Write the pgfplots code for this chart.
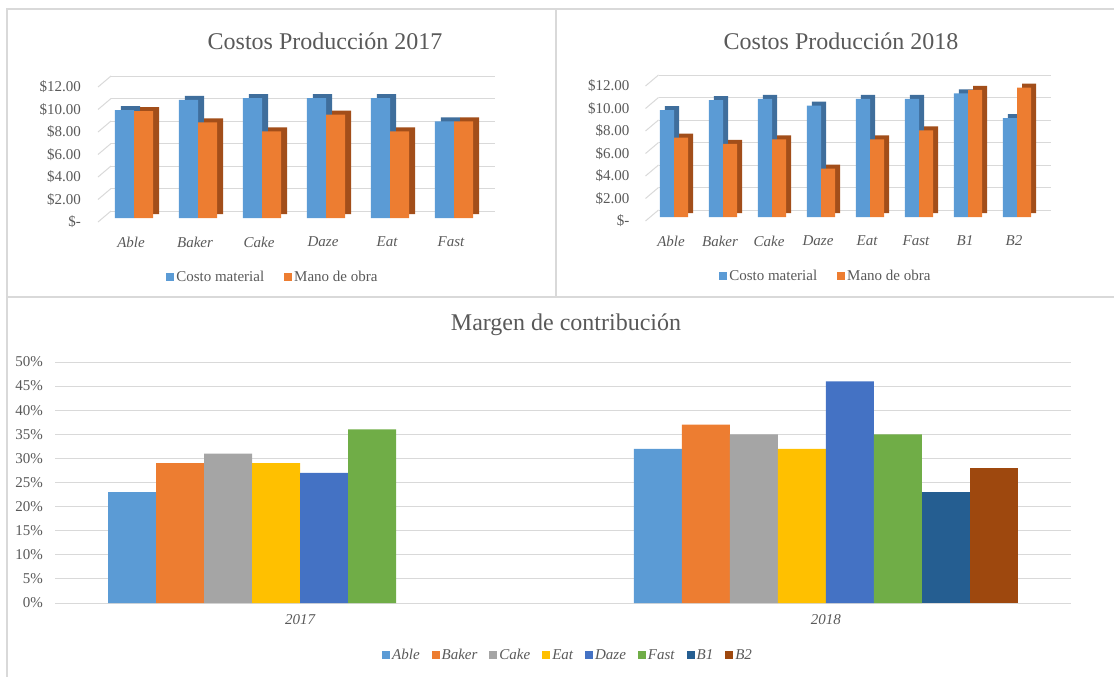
\documentclass[border=0pt]{standalone}
\usepackage{fontspec}
\setmainfont{Liberation Serif}
\usepackage{pgfplots}
\pgfplotsset{compat=1.18}
\usepackage{pgfplotstable}
\definecolor{cblue}{HTML}{5B9BD5}
\definecolor{corange}{HTML}{ED7D31}
\definecolor{cgray}{HTML}{A5A5A5}
\definecolor{cyellow}{HTML}{FFC000}
\definecolor{cdblue}{HTML}{4472C4}
\definecolor{cgreen}{HTML}{70AD47}
\definecolor{cnavy}{HTML}{255E91}
\definecolor{cbrown}{HTML}{9E480E}
\definecolor{sblue}{HTML}{3F6E9C}
\definecolor{sorange}{HTML}{A24E1A}
\definecolor{gridc}{HTML}{D9D9D9}
\definecolor{txt}{HTML}{595959}
\definecolor{framec}{HTML}{D9D9D9}
\newcommand\fs{\fontsize{15}{18}\selectfont}
\newcommand\ft{\fontsize{24}{28}\selectfont}

\pgfplotstableread{
x cost mano
0 9.6 9.5
1 10.5 8.5
2 10.65 7.7
3 10.65 9.2
4 10.65 7.7
5 8.6 8.6
}\tA
\pgfplotstableread{
x cost mano
0 9.5 7.05
1 10.4 6.5
2 10.5 6.9
3 9.9 4.3
4 10.5 6.9
5 10.5 7.7
6 11.0 11.3
7 8.8 11.5
}\tB
\pgfplotstableread{
x Able Baker Cake Eat Daze Fast B1 B2
0 23 29 31 29 27 36 nan nan
1 32 37 35 32 46 35 23 28
}\tC

\pgfplotsset{
  common/.style={scale only axis, clip=false, axis line style={draw=none},
    tick style={draw=none}, major tick length=0pt, ymajorgrids,
    major grid style={draw=gridc, line width=1pt},
    tick label style={font=\fs, text=txt},
    legend style={draw=none, fill=none, font=\fs, text=txt, anchor=center, inner sep=0pt}},
  sq legend/.style={legend image code/.code={\fill[##1] (0pt,-4pt) rectangle (8pt,4pt);}},
}

\begin{document}
\begin{tikzpicture}
\path[use as bounding box] (0pt,0pt) rectangle (1114pt,-677pt);
\draw[framec, line width=1.5pt] (7pt,-677pt) -- (7pt,-9pt) -- (1114pt,-9pt);
\draw[framec, line width=1.5pt] (556pt,-9pt) -- (556pt,-297pt);
\draw[framec, line width=1.5pt] (7pt,-297pt) -- (1114pt,-297pt);

\node[font=\ft, text=txt] at (325pt,-41pt) {Costos Producción 2017};
\node[font=\ft, text=txt] at (841pt,-41pt) {Costos Producción 2018};
\node[font=\ft, text=txt] at (566pt,-325pt) {Margen de contribución};

% top-left
\begin{axis}[common, at={(102pt,-218pt)}, anchor=south west, width=384pt, height=135pt,
  xmin=-0.5, xmax=5.5, ymin=0, ymax=12,
  ytick={0,2,4,6,8,10,12},
  yticklabels={\$-\hspace{6pt},\$2.00,\$4.00,\$6.00,\$8.00,\$10.00,\$12.00},
  xtick={0,1,2,3,4,5}, xticklabels={Able,Baker,Cake,Daze,Eat,Fast},
  xticklabel style={font=\fs\itshape, anchor=center, yshift=-24pt, xshift=-3pt},
  yticklabel style={anchor=east, inner sep=0pt, xshift=-21pt, yshift=-4pt},
  major grid style={draw=gridc, line width=1pt, xshift=9pt, yshift=7pt},
  legend columns=2,
  legend style={at={(0.445,-0.437)}, /tikz/every even column/.append style={column sep=18pt}},
  legend entries={Costo material, Mano de obra}]
\addplot[ybar, bar width=0.297, bar shift=-0.1485, fill=sblue, draw=none, xshift=6pt, yshift=4pt, forget plot] table[x=x,y=cost]{\tA};
\addplot[ybar, bar width=0.297, bar shift=-0.1485, fill=cblue, draw=none, sq legend] table[x=x,y=cost]{\tA};
\addplot[ybar, bar width=0.297, bar shift=0.1485, fill=sorange, draw=none, xshift=6pt, yshift=4pt, forget plot] table[x=x,y=mano]{\tA};
\addplot[ybar, bar width=0.297, bar shift=0.1485, fill=corange, draw=none, sq legend] table[x=x,y=mano]{\tA};
\pgfplotsinvokeforeach{0,2,4,6,8,10,12}{\draw[gridc, line width=1pt] ([xshift=-4pt,yshift=-4pt]axis cs:-0.5,#1) -- ([xshift=9pt,yshift=7pt]axis cs:-0.5,#1);}
\end{axis}

% top-right
\begin{axis}[common, at={(649.5pt,-217pt)}, anchor=south west, width=392pt, height=135pt,
  xmin=-0.5, xmax=7.5, ymin=0, ymax=12,
  ytick={0,2,4,6,8,10,12},
  yticklabels={\$-\hspace{6pt},\$2.00,\$4.00,\$6.00,\$8.00,\$10.00,\$12.00},
  xtick={0,1,2,3,4,5,6,7}, xticklabels={Able,Baker,Cake,Daze,Eat,Fast,B1,B2},
  xticklabel style={font=\fs\itshape, anchor=center, yshift=-24pt, xshift=-3pt},
  yticklabel style={anchor=east, inner sep=0pt, xshift=-20pt, yshift=-4pt},
  major grid style={draw=gridc, line width=1pt, xshift=9pt, yshift=7pt},
  legend columns=2,
  legend style={at={(0.45,-0.437)}, /tikz/every even column/.append style={column sep=18pt}},
  legend entries={Costo material, Mano de obra}]
\addplot[ybar, bar width=0.286, bar shift=-0.143, fill=sblue, draw=none, xshift=5pt, yshift=4pt, forget plot] table[x=x,y=cost]{\tB};
\addplot[ybar, bar width=0.286, bar shift=-0.143, fill=cblue, draw=none, sq legend] table[x=x,y=cost]{\tB};
\addplot[ybar, bar width=0.286, bar shift=0.143, fill=sorange, draw=none, xshift=5pt, yshift=4pt, forget plot] table[x=x,y=mano]{\tB};
\addplot[ybar, bar width=0.286, bar shift=0.143, fill=corange, draw=none, sq legend] table[x=x,y=mano]{\tB};
\pgfplotsinvokeforeach{0,2,4,6,8,10,12}{\draw[gridc, line width=1pt] ([xshift=-4pt,yshift=-4pt]axis cs:-0.5,#1) -- ([xshift=9pt,yshift=7pt]axis cs:-0.5,#1);}
\end{axis}

% bottom
\begin{axis}[common, at={(55pt,-603pt)}, anchor=south west, width=1016pt, height=241pt,
  xmin=-0.466, xmax=1.466, ymin=0, ymax=50,
  ytick={0,5,10,15,20,25,30,35,40,45,50},
  yticklabels={0\%,5\%,10\%,15\%,20\%,25\%,30\%,35\%,40\%,45\%,50\%},
  xtick={0,1}, xticklabels={2017,2018},
  xticklabel style={font=\fs\itshape, anchor=center, yshift=-17pt},
  yticklabel style={anchor=east, inner sep=0pt, xshift=-12pt},
  legend columns=8,
  legend style={font=\fs\itshape, at={(0.505,-0.216)}, /tikz/every even column/.append style={column sep=10pt}},
  legend entries={Able,Baker,Cake,Eat,Daze,Fast,B1,B2}]
\addplot[ybar, bar width=0.0913, bar shift=-0.31955, fill=cblue, draw=none, sq legend] table[x=x,y=Able]{\tC};
\addplot[ybar, bar width=0.0913, bar shift=-0.22825, fill=corange, draw=none, sq legend] table[x=x,y=Baker]{\tC};
\addplot[ybar, bar width=0.0913, bar shift=-0.13695, fill=cgray, draw=none, sq legend] table[x=x,y=Cake]{\tC};
\addplot[ybar, bar width=0.0913, bar shift=-0.04565, fill=cyellow, draw=none, sq legend] table[x=x,y=Eat]{\tC};
\addplot[ybar, bar width=0.0913, bar shift=0.04565, fill=cdblue, draw=none, sq legend] table[x=x,y=Daze]{\tC};
\addplot[ybar, bar width=0.0913, bar shift=0.13695, fill=cgreen, draw=none, sq legend] table[x=x,y=Fast]{\tC};
\addplot[ybar, bar width=0.0913, bar shift=0.22825, fill=cnavy, draw=none, sq legend] table[x=x,y=B1]{\tC};
\addplot[ybar, bar width=0.0913, bar shift=0.31955, fill=cbrown, draw=none, sq legend] table[x=x,y=B2]{\tC};
\end{axis}
\end{tikzpicture}
\end{document}
